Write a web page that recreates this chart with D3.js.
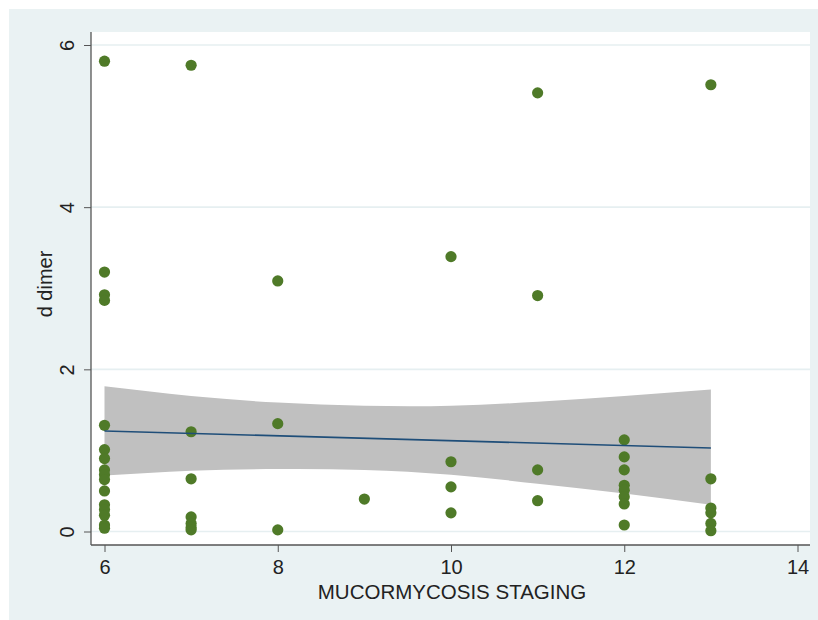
<!DOCTYPE html>
<html>
<head>
<meta charset="utf-8">
<script src="https://cdn.jsdelivr.net/npm/d3@7"></script>
<style>
  body { margin: 0; background: #ffffff; }
  text { font-family: "Liberation Sans", Arial, sans-serif; fill: #222; }
</style>
</head>
<body>
<script>
// stage (x) and d dimer (y) for each patient
var staging = [
  6, 6, 6, 6, 6, 6, 6, 6, 6, 6, 6, 6, 6, 6, 6, 6,
  7, 7, 7, 7, 7, 7, 7,
  8, 8, 8,
  9,
  10, 10, 10, 10,
  11, 11, 11, 11,
  12, 12, 12, 12, 12, 12, 12, 12,
  13, 13, 13, 13, 13, 13
];
var dDimer = [
  5.80, 3.20, 2.92, 2.85, 1.31, 1.01, 0.90, 0.76, 0.70, 0.64, 0.50, 0.33, 0.27, 0.20, 0.08, 0.04,
  5.75, 1.23, 0.65, 0.18, 0.10, 0.05, 0.02,
  3.09, 1.33, 0.02,
  0.40,
  3.39, 0.86, 0.55, 0.23,
  5.41, 2.91, 0.76, 0.38,
  1.13, 0.92, 0.76, 0.57, 0.51, 0.43, 0.34, 0.08,
  5.51, 0.65, 0.29, 0.23, 0.10, 0.01
];

// linear fit with 95% CI band
var fitX = [6, 13];
var fitY = [1.24, 1.03];
var ciX = [6, 7, 8, 9, 10, 11, 12, 13];
var ciUpper = [1.79, 1.67, 1.59, 1.55, 1.55, 1.60, 1.67, 1.75];
var ciLower = [0.69, 0.75, 0.77, 0.76, 0.70, 0.59, 0.47, 0.33];

var xTicks = [6, 8, 10, 12, 14];
var yTicks = [0, 2, 4, 6];

var svg = d3.select('body').append('svg')
  .attr('width', 818)
  .attr('height', 620);

// outer graph region
svg.append('rect')
  .attr('x', 9).attr('y', 9)
  .attr('width', 809).attr('height', 611)
  .style('fill', '#eaf2f3');

var plot = { left: 91, right: 810, top: 32, bottom: 545 };

svg.append('rect')
  .attr('x', plot.left).attr('y', plot.top)
  .attr('width', plot.right - plot.left)
  .attr('height', plot.bottom - plot.top)
  .style('fill', '#ffffff');

var x = d3.scaleLinear().domain([6, 14]).range([104.5, 797.5]);
var y = d3.scaleLinear().domain([0, 6]).range([531.5, 45]);

// horizontal grid lines
svg.append('g').selectAll('line')
  .data(yTicks)
  .enter().append('line')
  .attr('x1', plot.left).attr('x2', plot.right)
  .attr('y1', function(d) { return y(d); })
  .attr('y2', function(d) { return y(d); })
  .style('stroke', '#e6eff1')
  .style('stroke-width', 1.6);

// confidence band
var band = ciX.map(function(v, i) { return { x: v, lo: ciLower[i], hi: ciUpper[i] }; });
svg.append('path')
  .datum(band)
  .attr('d', d3.area()
    .x(function(d) { return x(d.x); })
    .y0(function(d) { return y(d.lo); })
    .y1(function(d) { return y(d.hi); })
    .curve(d3.curveNatural))
  .style('fill', '#c0c0c0');

// points
svg.append('g').selectAll('circle')
  .data(staging)
  .enter().append('circle')
  .attr('cx', function(d) { return x(d); })
  .attr('cy', function(d, i) { return y(dDimer[i]); })
  .attr('r', 5.6)
  .style('fill', '#4f7a28');

// fitted line
svg.append('path')
  .datum(fitX.map(function(v, i) { return [v, fitY[i]]; }))
  .attr('d', d3.line()
    .x(function(d) { return x(d[0]); })
    .y(function(d) { return y(d[1]); }))
  .style('fill', 'none')
  .style('stroke', '#1f4e79')
  .style('stroke-width', 1.6);

// x axis
var xAxis = svg.append('g')
  .attr('transform', 'translate(0,' + plot.bottom + ')')
  .call(d3.axisBottom(x).tickValues(xTicks).tickSize(7).tickPadding(8).tickFormat(d3.format('d')));
xAxis.select('.domain').attr('d', 'M' + plot.left + ',0H' + plot.right).style('stroke', '#555').style('stroke-width', 1.3);
xAxis.selectAll('.tick line').style('stroke', '#555');
xAxis.selectAll('.tick text').style('font-size', '20px').style('fill', '#222');

// y axis, labels turned like Stata does
var yAxis = svg.append('g')
  .attr('transform', 'translate(' + plot.left + ',0)')
  .call(d3.axisLeft(y).tickValues(yTicks).tickSize(7).tickFormat(d3.format('d')));
yAxis.select('.domain').attr('d', 'M0,' + plot.top + 'V' + plot.bottom).style('stroke', '#555').style('stroke-width', 1.3);
yAxis.selectAll('.tick line').style('stroke', '#555');
yAxis.selectAll('.tick text')
  .attr('x', null).attr('dy', null)
  .attr('transform', 'translate(-24,0) rotate(-90)')
  .attr('dy', '0.35em')
  .style('text-anchor', 'middle')
  .style('font-size', '20px')
  .style('fill', '#222');

svg.append('text')
  .attr('x', 452).attr('y', 599)
  .style('text-anchor', 'middle')
  .style('font-size', '20.5px')
  .text('MUCORMYCOSIS STAGING');

svg.append('text')
  .attr('transform', 'translate(52,284) rotate(-90)')
  .style('text-anchor', 'middle')
  .style('font-size', '20px')
  .text('d dimer');
</script>
</body>
</html>
